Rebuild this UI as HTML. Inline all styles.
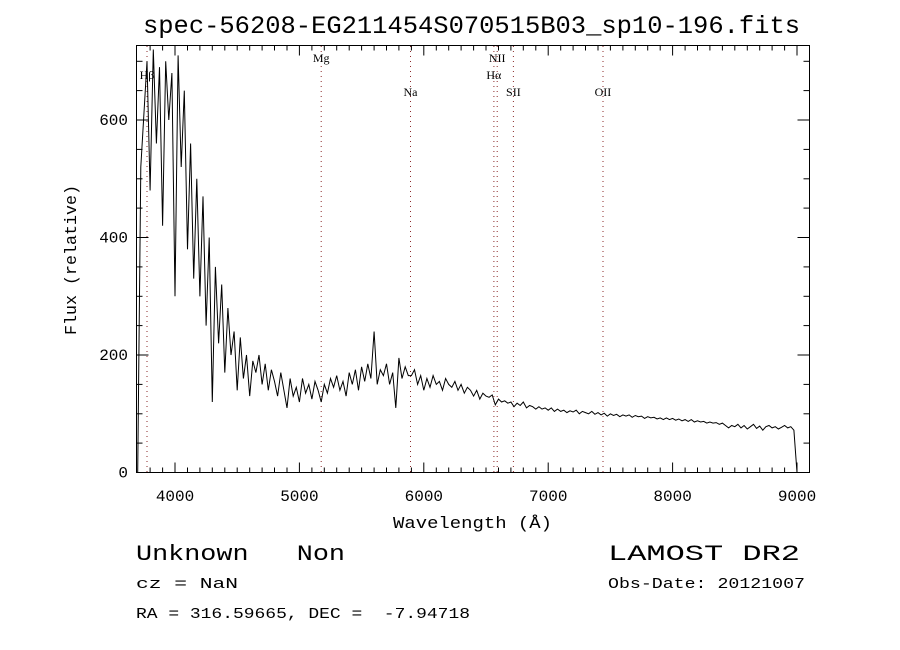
<!DOCTYPE html>
<html><head><meta charset="utf-8"><style>
body{margin:0;background:#fff;}
svg{display:block;}
.m{font-family:"Liberation Mono",monospace;fill:#000;}
.s{font-family:"Liberation Serif",serif;fill:#000;font-size:12px;}
</style></head><body>
<svg id="chart" width="900" height="650" viewBox="0 0 900 650" xmlns="http://www.w3.org/2000/svg">
<text class="m" x="143" y="33" font-size="25" textLength="657" lengthAdjust="spacingAndGlyphs">spec-56208-EG211454S070515B03_sp10-196.fits</text>
<g id="lines"></g>
<g id="axes"></g>
<path id="spec" fill="none" stroke="#000" stroke-width="1"/>
<rect x="136.5" y="45.5" width="673" height="427" fill="none" stroke="#000" stroke-width="1"/>
<text class="m" x="393" y="528" font-size="17" textLength="159" lengthAdjust="spacingAndGlyphs">Wavelength (Å)</text>
<text class="m" x="0" y="0" font-size="17" text-anchor="middle" textLength="150" lengthAdjust="spacingAndGlyphs" transform="translate(76,260) rotate(-90)">Flux (relative)</text>
<text class="m" x="136" y="560" font-size="22" xml:space="preserve" textLength="209" lengthAdjust="spacingAndGlyphs">Unknown   Non</text>
<text class="m" x="608" y="560" font-size="22" textLength="192" lengthAdjust="spacingAndGlyphs">LAMOST DR2</text>
<text class="m" x="136" y="588" font-size="15" textLength="102" lengthAdjust="spacingAndGlyphs">cz = NaN</text>
<text class="m" x="608" y="588" font-size="15" textLength="197" lengthAdjust="spacingAndGlyphs">Obs-Date: 20121007</text>
<text class="m" x="136" y="618" font-size="15" xml:space="preserve" textLength="334" lengthAdjust="spacingAndGlyphs">RA = 316.59665, DEC =  -7.94718</text>
</svg>
<script>
const waveStart = 3700;
const waveStep = 25;
const flux = [0,520,610,700,480,720,560,690,420,700,600,680,300,710,520,650,380,560,330,500,300,470,250,400,120,350,220,320,170,280,200,240,140,230,160,200,130,190,170,200,150,185,140,175,155,130,170,140,110,160,130,145,120,160,135,150,125,155,140,120,150,135,160,145,165,140,155,130,170,150,175,140,180,155,185,160,240,150,175,165,185,150,170,110,195,160,180,165,165,175,150,165,140,160,145,165,150,155,140,160,150,145,155,140,150,135,145,140,130,140,125,135,130,128,132,115,125,120,122,118,120,112,118,114,120,110,114,112,108,112,108,110,106,110,104,108,104,106,102,105,103,106,100,104,102,100,104,99,102,98,101,96,100,97,99,95,98,96,98,94,97,95,96,92,95,93,94,91,93,90,93,90,92,89,91,88,90,87,90,86,88,86,87,84,86,84,85,82,84,80,76,80,78,82,76,80,74,78,82,75,79,72,78,80,76,78,74,77,80,76,78,72,0];
const xTicks = [4000,5000,6000,7000,8000,9000];
const yTicks = [0,200,400,600];
const lineNames = ["Hβ","Mg","Na","Hα","NII","SII","OII"];
const lineWaves = [3775,5175,5893,6563,6590,6720,7440];
const lineLabelRow = [1,0,2,1,0,2,2];

const X0=137.7, XS=0.1244, Y0=472.5, YS=0.5875;
const xs = w => X0 + (w-3700)*XS;
const ys = f => Y0 - f*YS;
const NS="http://www.w3.org/2000/svg";
function mk(tag, attrs, parent){const e=document.createElementNS(NS,tag);for(const k in attrs)e.setAttribute(k,attrs[k]);parent.appendChild(e);return e;}

let d="";
flux.forEach((f,i)=>{const w=waveStart+i*waveStep;d+=(i?"L":"M")+xs(w).toFixed(1)+","+Math.max(45,ys(f)).toFixed(1);});
document.getElementById('spec').setAttribute('d',d);

const axes=document.getElementById('axes');
for(let w=3800;w<=9000;w+=100){
  const x=xs(w).toFixed(1), big=(w%1000===0);
  const len=big?10:5;
  const t1=mk('line',{x1:x,x2:x,y1:472.5,y2:472.5-len,stroke:'#000'},axes);
  
  
  const t2=mk('line',{x1:x,x2:x,y1:45.5,y2:45.5+len,stroke:'#000'},axes);
  
  
}
xTicks.forEach(v=>{
  const t=mk('text',{x:xs(v),y:501,'font-size':16,'text-anchor':'middle',class:'m'},axes);
  t.textContent=v;
  
  
});
for(let v=0;v<=700;v+=50){
  const y=ys(v).toFixed(1), big=(v%200===0);
  const len=big?12:6;
  const t1=mk('line',{x1:136.5,x2:136.5+len,y1:y,y2:y,stroke:'#000'},axes);
  
  
  const t2=mk('line',{x1:809.5,x2:809.5-len,y1:y,y2:y,stroke:'#000'},axes);
  
  
}
yTicks.forEach(v=>{
  const t=mk('text',{x:128,y:ys(v)+5,'font-size':16,'text-anchor':'end',class:'m'},axes);
  t.textContent=v;
  
  
});
const lg=document.getElementById('lines');
lineWaves.forEach((w,i)=>{
  const x=xs(w).toFixed(1);
  const l=mk('line',{x1:x,x2:x,y1:46,y2:472,stroke:'#8b2a2a','stroke-dasharray':'1,4'},lg);
  
  
  const t=mk('text',{x:xs(w),y:62+lineLabelRow[i]*17,'text-anchor':'middle',class:'s'},lg);
  t.textContent=lineNames[i];
  
  
});
</script>
</body></html>
